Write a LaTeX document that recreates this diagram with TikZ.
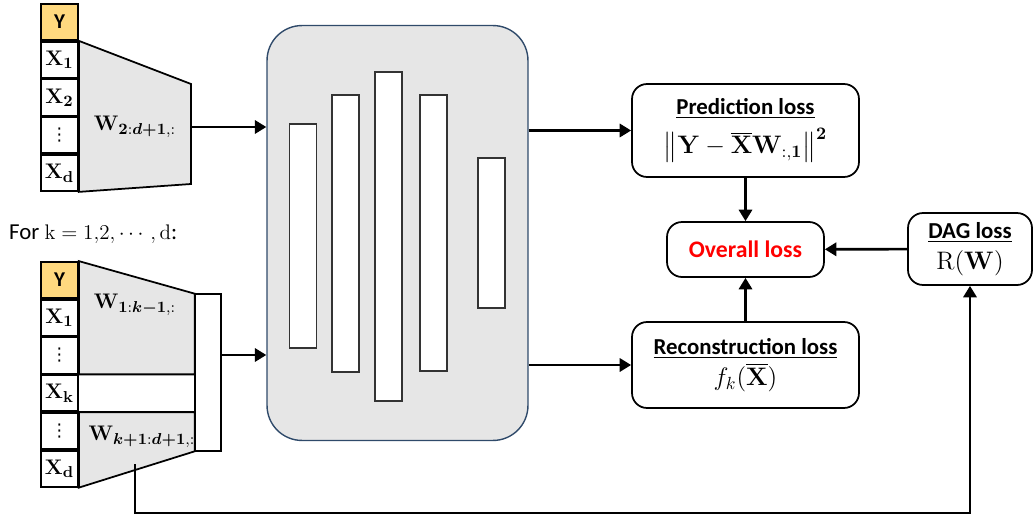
\documentclass[tikz,border=0pt]{standalone}
\usepackage{amsmath,amssymb}
\usepackage[no-math]{fontspec}
\setmainfont{Carlito}
\newfontfamily\symfont{DejaVu Sans}
\usetikzlibrary{arrows.meta,positioning,calc}

\definecolor{yfill}{HTML}{FFD97F}
\definecolor{wgray}{HTML}{E6E6E6}
\definecolor{netedge}{HTML}{2F4A6A}
\newcommand{\celldots}{{\symfont\fontsize{10}{10}\selectfont ⋮}}

\begin{document}
\begin{tikzpicture}[x=0.02cm, y=-0.02cm,
    every node/.style={font=\fontsize{13}{15}\selectfont},
    cell/.style={draw, line width=1pt, fill=white, minimum width=0.74cm,
                 minimum height=0.72cm, inner sep=0pt},
    ycell/.style={cell, fill=yfill, font=\fontsize{12}{14}\selectfont\bfseries},
    layer/.style={draw=black!80, fill=white, line width=0.8pt,
                  minimum width=0.54cm, inner sep=0pt},
    lossbox/.style={draw, line width=1pt, rounded corners=0.3cm, fill=white,
                    align=center, font=\fontsize{13}{17}\selectfont},
    arr/.style={-{Triangle[length=6.5pt,width=7.5pt]}, line width=1.5pt},
  ]
  \useasboundingbox (0,0) rectangle (1035,517);

  % Upper input stack
  \node[ycell] (ya) at (59.5,22) {Y};
  \node[cell, below=0pt of ya] (xa1) {$\mathbf{X_1}$};
  \node[cell, below=0pt of xa1] (xa2) {$\mathbf{X_2}$};
  \node[cell, below=0pt of xa2] (xadots) {\celldots};
  \node[cell, below=0pt of xadots] (xad) {$\mathbf{X_d}$};
  \filldraw[fill=wgray, line width=1pt]
    (xa1.north east) -- (191,84) -- (191,184) -- (xad.south east) -- cycle;
  \node (wtop) at (135,127) {$\mathbf{W}_{\mathbf{2}:\boldsymbol{d+1},:}$};
  \coordinate (topout) at (191,127);

  % Lower input stack (one per k)
  \node[anchor=west] (forlbl) at (3,234) {For $\mathrm{k}=1{,}2,\cdots,\mathrm{d}$:};
  \node[ycell] (yb) at (59.5,280) {Y};
  \node[cell, below=0pt of yb] (xb1) {$\mathbf{X_1}$};
  \node[cell, below=0pt of xb1] (xbdots) {\celldots};
  \node[cell, below=0pt of xbdots] (xbk) {$\mathbf{X_k}$};
  \node[cell, below=0pt of xbk] (xbdotsb) {\celldots};
  \node[cell, below=0pt of xbdotsb] (xbd) {$\mathbf{X_d}$};
  \node[minimum width=0.52cm, minimum height=3.14cm, inner sep=0pt] (concat) at (208,372.5) {};
  \filldraw[fill=wgray, line width=1pt]
    (yb.north east) -- (concat.north west) -- (concat.west |- xbk.north) -- (xbk.north east) -- cycle;
  \filldraw[fill=wgray, line width=1pt]
    (xbdotsb.north east) -- (concat.west |- xbdotsb.north) -- (concat.south west) -- (xbd.south east) -- cycle;
  \draw[fill=white, line width=1pt] (concat.north west) rectangle (concat.south east);
  \node (wup) at (135,305) {$\mathbf{W}_{\mathbf{1}:\boldsymbol{k-1},:}$};
  \node (wlow) at (142,437) {$\mathbf{W}_{\boldsymbol{k+1}:\boldsymbol{d+1},:}$};
  \coordinate (botout) at (221,355);
  \coordinate (fb) at (135,464);
  \coordinate (fbcorner) at (135,513);

  % Network
  \node[draw=netedge, fill=wgray, line width=0.8pt, rounded corners=0.7cm,
        minimum width=5.22cm, minimum height=8.3cm] (net) at (397.5,233) {};
  \foreach \i/\xc/\yc/\h in {1/303/236/4.48, 2/345.5/233.5/5.54, 3/388.5/236.5/6.58,
                             4/433.5/233/5.52, 5/491.5/233/3.0}
    \node[layer, minimum height=\h cm] (l\i) at (\xc,\yc) {};

  % Losses
  \node[lossbox, minimum width=4.54cm, minimum height=1.86cm] (pred) at (745.5,130.5)
    {\textbf{\underline{Prediction loss}}\\[4pt]
     {\fontsize{14}{16}\selectfont$\big\|\mathbf{Y}-\overline{\mathbf{X}}\mathbf{W}_{:,\mathbf{1}}\big\|^{\mathbf{2}}$}};
  \node[lossbox, minimum width=3.14cm, minimum height=1.1cm, text=red,
        font=\fontsize{13.5}{17}\selectfont\bfseries] (overall) at (745.5,249.5) {Overall loss};
  \node[lossbox, minimum width=4.54cm, minimum height=1.72cm] (recon) at (745.5,365)
    {\textbf{\underline{Reconstruction loss}}\\[1pt]
     {\fontsize{14}{16}\selectfont$f_k(\overline{\mathbf{X}})$}};
  \node[lossbox, minimum width=2.48cm, minimum height=1.44cm] (dag) at (970,249)
    {\textbf{\underline{DAG loss}}\\[1pt]
     {\fontsize{14}{16}\selectfont$\mathrm{R}(\mathbf{W})$}};

  % Connectors
  \draw[arr] (topout) -- (topout -| net.west);
  \draw[arr] (botout) -- (botout -| net.west);
  \draw[arr] (net.east |- pred.west) -- (pred.west);
  \draw[arr] (net.east |- recon.west) -- (recon.west);
  \draw[arr] (pred) -- (overall);
  \draw[arr] (recon) -- (overall);
  \draw[arr] (dag) -- (overall);
  \draw[arr] (fb) -- (fbcorner) -| (dag.south);
\end{tikzpicture}
\end{document}
